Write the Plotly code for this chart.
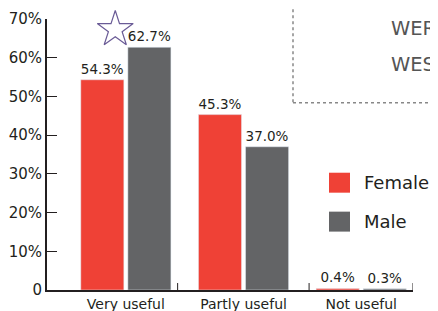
import plotly.graph_objects as go

categories = ["Very useful", "Partly useful", "Not useful"]
female = [54.3, 45.3, 0.4]
male = [62.7, 37.0, 0.3]
y_ticks = [0, 10, 20, 30, 40, 50, 60, 70]
y_tick_labels = ["0", "10%", "20%", "30%", "40%", "50%", "60%", "70%"]

RED = "#EF4136"
GRAY = "#636466"
DARK = "#231F20"
FONT = "DejaVu Sans"

OFF = 8  # page body margin
W, H = 438 - OFF, 311 - OFF
L, R, T, B = 47 - OFF, 25, 19 - OFF, 20.5
pw, ph = W - L - R, H - T - B


def px(x):
    return (x - OFF - L) / pw


def py(y):
    return (H + OFF - B - y) / ph


xs = list(range(len(categories)))

fig = go.Figure()
fig.add_trace(go.Bar(x=xs, y=female, name="Female", marker_color=RED,
                     text=[f"{v:.1f}%" for v in female], textposition="outside",
                     textfont=dict(size=13.5, color=DARK, family=FONT), cliponaxis=False))
fig.add_trace(go.Bar(x=xs, y=male, name="Male", marker_color=GRAY,
                     text=[f"{v:.1f}%" for v in male], textposition="outside",
                     textfont=dict(size=13.5, color=DARK, family=FONT), cliponaxis=False))

# star near highest bar
imax = male.index(max(male))
fig.add_trace(go.Scatter(x=[imax - 0.09], y=[max(male) + 4.6], mode="markers",
                         marker=dict(symbol="star-open", size=27, color="#6A5B96",
                                     line=dict(width=1.2, color="#6A5B96")),
                         showlegend=False, hoverinfo="skip", cliponaxis=False))

shapes = []
# x-axis small ticks (inside)
for xv in [0.44, 1.557, 2.44]:
    shapes.append(dict(type="line", xref="x", yref="y", x0=xv, x1=xv, y0=0, y1=1.8,
                       line=dict(color=DARK, width=1)))
# dotted box
shapes.append(dict(type="rect", xref="paper", yref="paper", x0=px(293), x1=px(445),
                   y0=py(103), y1=py(-5), line=dict(color="#888888", width=1.5, dash="dot")))
# dark glyph bottom at top right
shapes.append(dict(type="rect", xref="paper", yref="paper", x0=px(412), x1=px(422),
                   y0=py(5), y1=py(-3), line=dict(width=0), fillcolor="#333333"))
# legend squares
shapes.append(dict(type="rect", xref="paper", yref="paper", x0=px(329), x1=px(350),
                   y0=py(193), y1=py(173), line=dict(width=0), fillcolor=RED))
shapes.append(dict(type="rect", xref="paper", yref="paper", x0=px(329), x1=px(350),
                   y0=py(232), y1=py(212), line=dict(width=0), fillcolor=GRAY))

annotations = [
    dict(xref="paper", yref="paper", x=px(362), y=py(183), text="Female", showarrow=False,
         xanchor="left", yanchor="middle", font=dict(size=18, color=DARK, family=FONT)),
    dict(xref="paper", yref="paper", x=px(362), y=py(222), text="Male", showarrow=False,
         xanchor="left", yanchor="middle", font=dict(size=18, color=DARK, family=FONT)),
    dict(xref="paper", yref="paper", x=px(389), y=py(29), text="WER", showarrow=False,
         xanchor="left", yanchor="middle", font=dict(size=19.5, color="#555555", family=FONT)),
    dict(xref="paper", yref="paper", x=px(389), y=py(65), text="WES", showarrow=False,
         xanchor="left", yanchor="middle", font=dict(size=19.5, color="#555555", family=FONT)),
]

fig.update_layout(
    width=W, height=H,
    margin=dict(l=L, r=R, t=T, b=B, pad=0, autoexpand=False),
    paper_bgcolor="white", plot_bgcolor="white",
    barmode="group", bargap=0.2, bargroupgap=0.085,
    showlegend=False,
    shapes=shapes, annotations=annotations,
    font=dict(family=FONT, color=DARK),
    xaxis=dict(range=[-0.67, 2.44], tickvals=xs, ticktext=categories, ticks="",
               showgrid=False, zeroline=False, showline=True, linecolor=DARK, linewidth=2,
               tickfont=dict(size=14, color=DARK, family=FONT), fixedrange=True,
               automargin=False),
    yaxis=dict(range=[0, 70], tickvals=y_ticks, ticktext=y_tick_labels, ticks="inside",
               ticklen=10, tickcolor=DARK, tickwidth=1, showgrid=False, zeroline=False,
               showline=True, linecolor=DARK, linewidth=2,
               tickfont=dict(size=15, color=DARK, family=FONT), fixedrange=True,
               automargin=False),
)

fig.write_html("out.html")
